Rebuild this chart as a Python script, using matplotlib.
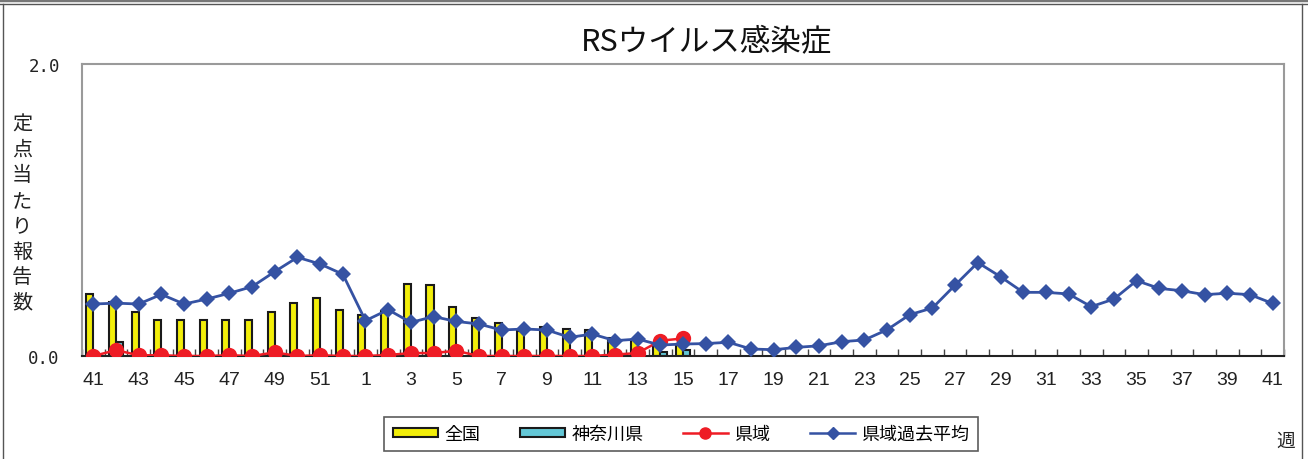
import matplotlib
matplotlib.use("Agg")
import matplotlib.pyplot as plt
from matplotlib.patches import Patch
from matplotlib.lines import Line2D
import numpy as np

plt.rcParams['font.family'] = ['Noto Sans CJK JP', 'DejaVu Sans']

title = "RSウイルス感染症"
weeks = list(range(41, 53)) + list(range(1, 42))

national = [0.425, 0.37, 0.30, 0.246, 0.246, 0.246, 0.246, 0.246, 0.30, 0.36,
            0.395, 0.317, 0.28, 0.31, 0.495, 0.488, 0.338, 0.258, 0.228, 0.17,
            0.196, 0.185, 0.175, 0.12, 0.11, 0.08, 0.08]
kanagawa = [0.0, 0.095, 0.0, 0.0, 0.0, 0.0, 0.0, 0.0, 0.01, 0.0,
            0.0, 0.0, 0.0, 0.01, 0.01, 0.01, 0.0, 0.0, 0.0, 0.0,
            0.0, 0.0, 0.0, 0.0, 0.0, 0.025, 0.04]
prefecture = [0.0, 0.04, 0.005, 0.005, 0.0, 0.0, 0.005, 0.0, 0.025, 0.0,
              0.005, 0.0, 0.0, 0.007, 0.02, 0.02, 0.036, 0.0, 0.0, 0.0,
              0.0, 0.0, 0.0, 0.01, 0.02, 0.105, 0.12]
past_avg = [0.356, 0.362, 0.356, 0.422, 0.356, 0.39, 0.43, 0.475, 0.578, 0.676,
            0.63, 0.56, 0.242, 0.317, 0.23, 0.27, 0.237, 0.219, 0.178, 0.185,
            0.178, 0.128, 0.15, 0.105, 0.116, 0.075, 0.082, 0.085, 0.094, 0.048,
            0.043, 0.059, 0.07, 0.098, 0.11, 0.18, 0.283, 0.329, 0.486, 0.64,
            0.543, 0.436, 0.436, 0.425, 0.338, 0.39, 0.516, 0.463, 0.447, 0.42,
            0.43, 0.42, 0.36]
legend_labels = ["全国", "神奈川県", "県域", "県域過去平均"]
ylabel_chars = "定点当たり報告数"

W, H = 1308, 460
fig = plt.figure(figsize=(W / 100, H / 100), dpi=100)
ax = fig.add_axes([82 / W, 1 - 357 / H, (1284 - 82) / W, (357 - 65) / H])

YEL = "#F2EE0A"
TEAL = "#63C7D6"
RED = "#EE1C25"
BLUE = "#3552A3"

x_all = np.arange(len(weeks))
bw = 0.31
xn = np.arange(len(national))
ax.bar(xn - bw / 2, national, width=bw, color=YEL, edgecolor="#1a1a1a", linewidth=1.5, zorder=2)
ax.bar(xn + bw / 2, kanagawa, width=bw, color=TEAL, edgecolor="#1a1a1a", linewidth=1.5, zorder=2)
ax.plot(np.arange(len(prefecture)), prefecture, color=RED, lw=1.8, marker='o', ms=11,
        markeredgewidth=0, zorder=3)
ax.plot(x_all, past_avg, color=BLUE, lw=2.0, marker='D', ms=8, markeredgewidth=0, zorder=4)

ax.set_xlim(-0.5, len(weeks) - 0.5)
ax.set_ylim(0, 2.0)

# y ticks
ax.set_yticks([0, 2.0])
ax.set_yticklabels(["0.0", "2.0"], family='DejaVu Sans Mono', fontsize=12.5, color="#222222")
ax.tick_params(axis='y', length=0, pad=16)

# x ticks: labels at every other category, tick marks at boundaries
ax.set_xticks(x_all[::2])
ax.set_xticklabels([str(w) for w in weeks[::2]], fontsize=14, color="#222222",
                   family=['Liberation Sans Narrow', 'Liberation Sans', 'DejaVu Sans'])
ax.tick_params(axis='x', length=0, pad=11)
ax.set_xticks(np.arange(len(weeks) + 1) - 0.5, minor=True)
ax.tick_params(axis='x', which='minor', direction='in', length=5, width=1, color="#444444")

for s in ['left', 'top', 'right']:
    ax.spines[s].set_color("#9a9a9a")
    ax.spines[s].set_linewidth(1.5)
ax.spines['bottom'].set_color("#222222")
ax.spines['bottom'].set_linewidth(1.5)

# title
fig.text(706 / W, 1 - 43 / H, title, ha='center', va='center', fontsize=22, color="#111111")

# y label stacked
for i, ch in enumerate(ylabel_chars):
    fig.text(22 / W, 1 - (125 + i * 25.4) / H, ch, ha='center', va='center', fontsize=14.5, color="#222222")

fig.text(1286 / W, 1 - 441 / H, "週", ha='center', va='center', fontsize=13.5, color="#222222")

handles = [Patch(facecolor=YEL, edgecolor="#1a1a1a", linewidth=1.5),
           Patch(facecolor=TEAL, edgecolor="#1a1a1a", linewidth=1.5),
           Line2D([], [], color=RED, lw=1.8, marker='o', ms=8),
           Line2D([], [], color=BLUE, lw=1.8, marker='D', ms=6)]
leg = fig.legend(handles, legend_labels, loc='center', bbox_to_anchor=(681 / W, 1 - 435 / H),
                 ncol=4, frameon=True, fancybox=False, fontsize=13, handlelength=2.5,
                 handleheight=0.45, columnspacing=2.2, handletextpad=0.35,
                 borderpad=0.45, edgecolor="#333333")
leg.get_frame().set_linewidth(1.2)

# outer frame lines
fig.add_artist(Line2D([0, 1], [1 - 1 / H, 1 - 1 / H], transform=fig.transFigure, color="#777777", lw=2.5))
fig.add_artist(Line2D([0, 1], [1 - 5 / H, 1 - 5 / H], transform=fig.transFigure, color="#555555", lw=1))
fig.add_artist(Line2D([3 / W, 3 / W], [0, 1 - 5 / H], transform=fig.transFigure, color="#555555", lw=1))
fig.add_artist(Line2D([1302 / W, 1302 / W], [0, 1 - 5 / H], transform=fig.transFigure, color="#555555", lw=1))

fig.savefig("out.png", dpi=100)
